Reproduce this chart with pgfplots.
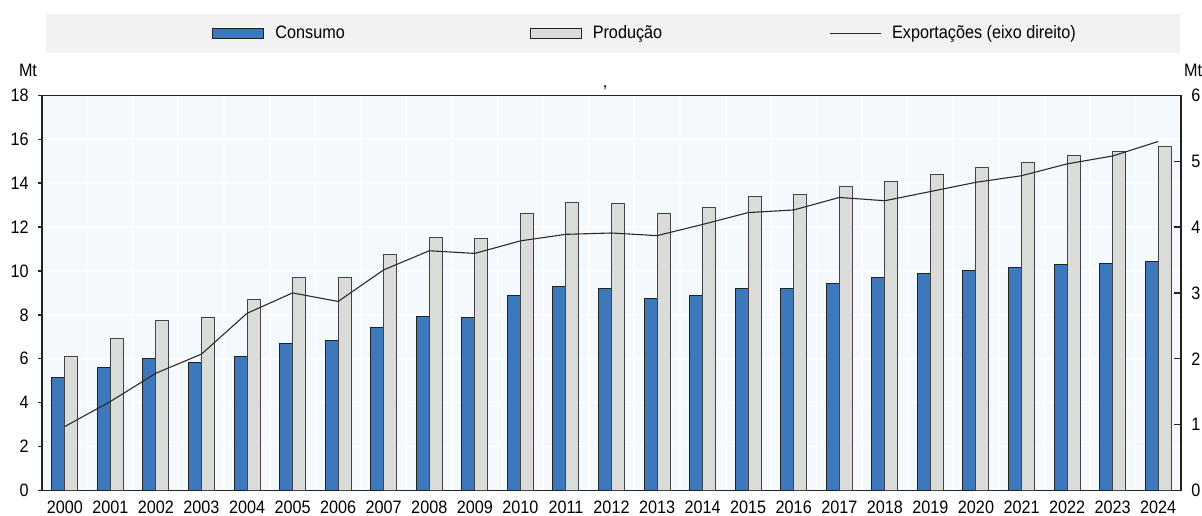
\documentclass[border=0pt]{standalone}
\usepackage{pgfplots}
\pgfplotsset{compat=1.18}
\usepackage{fontspec}
\setmainfont{Liberation Sans}[FakeStretch=0.9]
\definecolor{cblue}{HTML}{3D78BD}
\definecolor{cgrey}{HTML}{DBDBD9}
\definecolor{bgplot}{HTML}{F4F9FE}
\definecolor{bglegend}{HTML}{F1F2F1}
\definecolor{axcol}{HTML}{222222}
\definecolor{linecol}{HTML}{2B2B2B}

\pgfplotstableread{
x cons prod
0 5.15 6.09
1 5.58 6.90
2 6.02 7.73
3 5.84 7.90
4 6.09 8.72
5 6.68 9.69
6 6.84 9.69
7 7.43 10.74
8 7.91 11.53
9 7.88 11.47
10 8.86 12.62
11 9.27 13.14
12 9.18 13.06
13 8.75 12.62
14 8.87 12.90
15 9.21 13.41
16 9.22 13.49
17 9.42 13.87
18 9.69 14.08
19 9.87 14.40
20 10.04 14.70
21 10.15 14.92
22 10.31 15.25
23 10.35 15.43
24 10.41 15.69
}\bars

\pgfplotstableread{
x exp
0 0.97
1 1.35
2 1.78
3 2.07
4 2.69
5 3.00
6 2.87
7 3.35
8 3.64
9 3.60
10 3.79
11 3.89
12 3.91
13 3.87
14 4.04
15 4.22
16 4.26
17 4.45
18 4.40
19 4.54
20 4.68
21 4.78
22 4.96
23 5.08
24 5.30
}\exports

\begin{document}
\fontsize{9}{10}\selectfont
\begin{tikzpicture}
\fill[bglegend] (23pt,231pt) rectangle (590pt,250.5pt);
\begin{axis}[
  at={(21pt,12.3pt)}, anchor=south west,
  scale only axis, width=569.5pt, height=197.5pt,
  xmin=-0.5, xmax=24.5, ymin=0, ymax=18,
  axis background/.style={fill=bgplot},
  axis line style={axcol, line width=0.9pt},
  xtick={0,...,24},
  xticklabels={2000,2001,2002,2003,2004,2005,2006,2007,2008,2009,2010,2011,2012,2013,2014,2015,2016,2017,2018,2019,2020,2021,2022,2023,2024},
  xtick style={draw=none},
  minor x tick num=1,
  minor tick length=2.2pt,
  minor x tick style={axcol, line width=0.7pt},
  xminorgrids, minor x grid style={white, line width=0.8pt},
  xtick pos=bottom,
  ytick={0,2,...,18},
  ytick pos=left,
  major tick length=2pt,
  ytick style={axcol, line width=0.7pt, xshift=-2pt},
  ymajorgrids, major y grid style={white, line width=0.8pt},
  tick label style={font=\fontsize{9}{10}\selectfont},
  /pgf/number format/assume math mode=true,
  yticklabel style={xshift=-3.5pt},
  ybar, bar width=6.5pt,
  legend columns=3,
  legend style={at={(0.1493,1.1577)}, anchor=west, draw=none, fill=none,
    inner sep=0pt, font=\fontsize{9}{10}\selectfont,
    /tikz/column 1/.style={column sep=3.5pt},
    /tikz/column 2/.style={column sep=90.5pt},
    /tikz/column 3/.style={column sep=3.5pt},
    /tikz/column 4/.style={column sep=81.5pt},
    /tikz/column 5/.style={column sep=3.5pt}},
]
\addplot[fill=cblue, draw=axcol, line width=0.5pt, bar shift=-3.25pt,
  legend image code/.code={\draw[fill=cblue, draw=axcol, line width=0.5pt] (0pt,-2.5pt) rectangle (25.5pt,2.5pt);}]
  table[x=x, y=cons] {\bars};
\addlegendentry{Consumo}
\addplot[fill=cgrey, draw=axcol!85, line width=0.5pt, bar shift=3.25pt,
  legend image code/.code={\draw[fill=cgrey, draw=axcol, line width=0.5pt] (0pt,-2.5pt) rectangle (25.5pt,2.5pt);}]
  table[x=x, y=prod] {\bars};
\addlegendentry{Produção}
\addlegendimage{legend image code/.code={\draw[linecol, line width=0.5pt] (0pt,0pt) -- (25.5pt,0pt);}}
\addlegendentry{Exportações (eixo direito)}
\end{axis}
\begin{axis}[
  at={(21pt,12.3pt)}, anchor=south west,
  scale only axis, width=569.5pt, height=197.5pt,
  xmin=-0.5, xmax=24.5, ymin=0, ymax=6,
  axis x line=none,
  axis y line*=right,
  axis line style={axcol, line width=0.9pt},
  ytick={0,...,6},
  tick align=inside,
  major tick length=3.5pt,
  ytick style={axcol, line width=0.7pt},
  tick label style={font=\fontsize{9}{10}\selectfont},
  /pgf/number format/assume math mode=true,
  yticklabel style={xshift=2pt},
]
\addplot[linecol, line width=0.55pt, mark=none] table[x=x, y=exp] {\exports};
\end{axis}
\node at (14pt,222.5pt) {Mt};
\node at (596.5pt,222.5pt) {Mt};
\node[font=\fontsize{9}{10}\selectfont, inner sep=0pt] at (302.5pt,213.5pt) {,};
\pgfresetboundingbox
\path[use as bounding box] (0pt,0pt) rectangle (601pt,257.5pt);
\end{tikzpicture}
\end{document}
